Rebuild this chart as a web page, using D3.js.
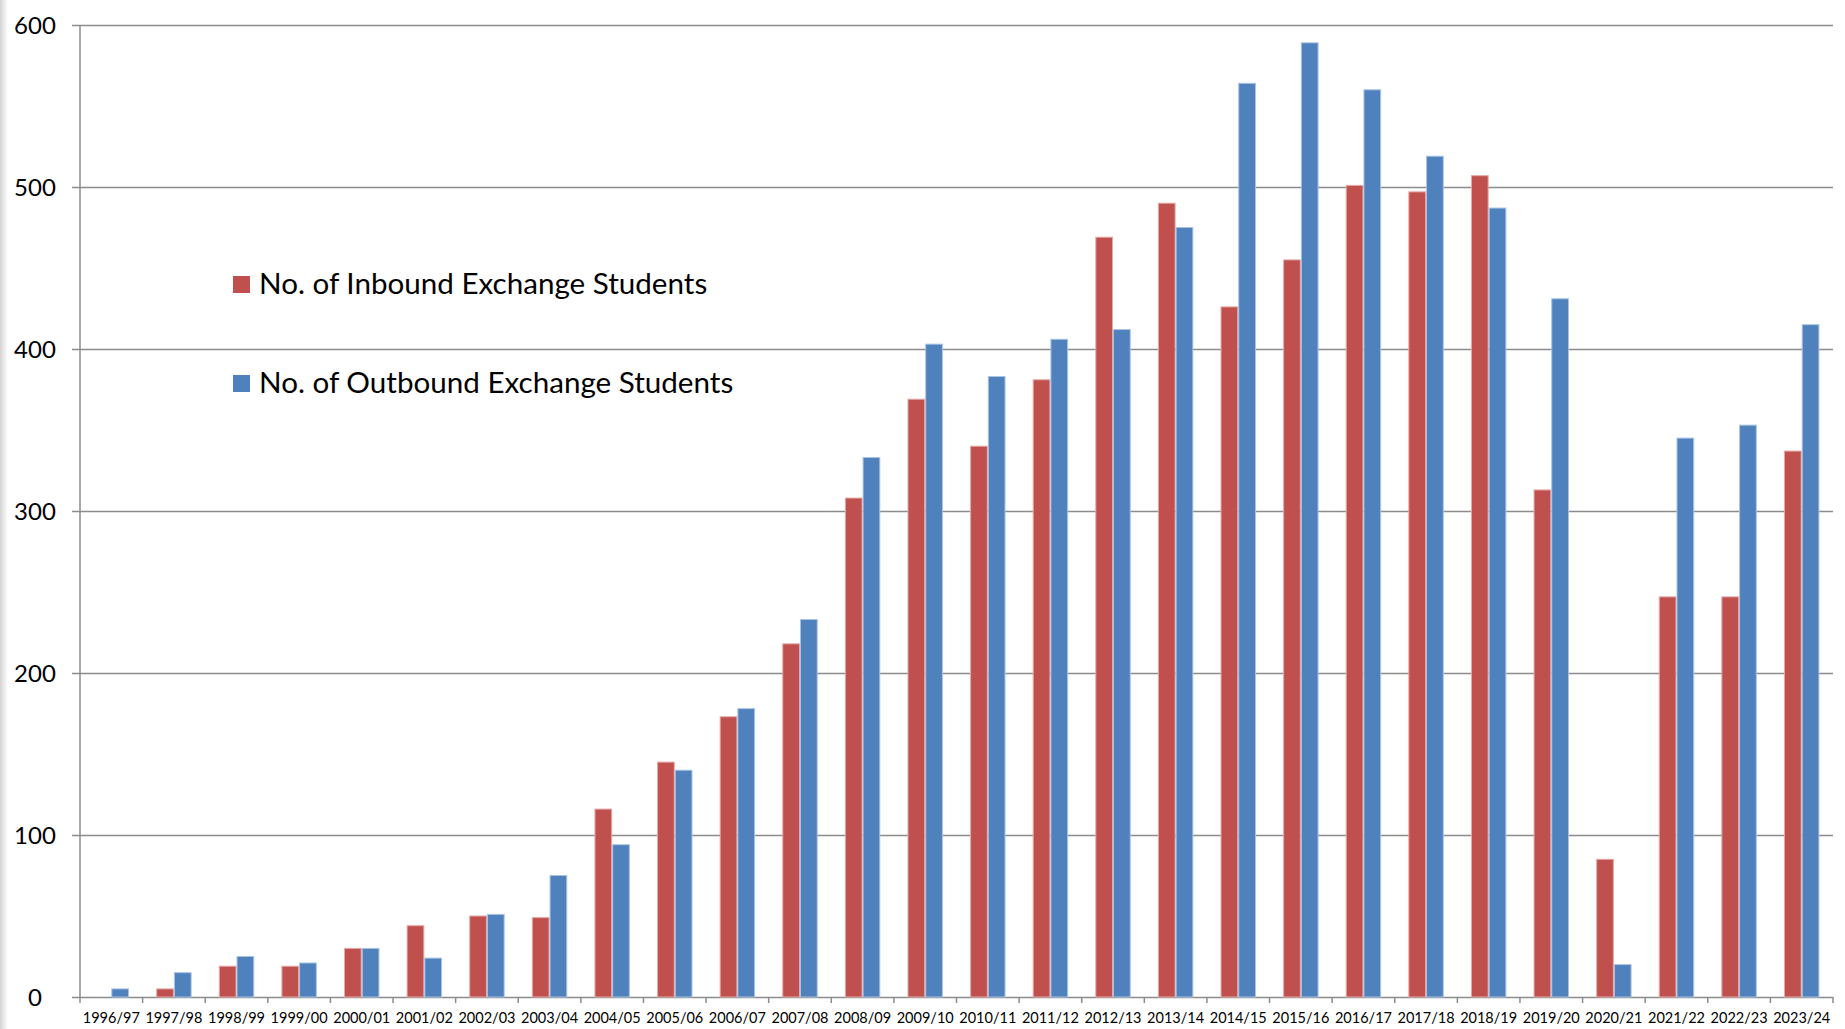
<!DOCTYPE html>
<html lang="en">
<head>
    <meta charset="UTF-8">
    <script src="https://d3js.org/d3.v7.min.js"></script>
    <title>Exchange Students</title>
    <style>
        body { margin: 0; background: #fff; }
        text { font-family: Lato, "Noto Sans", sans-serif; fill: #000; }
        .grid line { stroke: #8c8c8c; stroke-width: 1.5; }
    </style>
</head>
<body>
    <svg id="s1" width="1845" height="1029"></svg>
    <script>
        // data
        const years = ["1996/97","1997/98","1998/99","1999/00","2000/01","2001/02","2002/03",
                       "2003/04","2004/05","2005/06","2006/07","2007/08","2008/09","2009/10",
                       "2010/11","2011/12","2012/13","2013/14","2014/15","2015/16","2016/17",
                       "2017/18","2018/19","2019/20","2020/21","2021/22","2022/23","2023/24"];
        const inbound  = [0, 5, 19, 19, 30, 44, 50, 49, 116, 145, 173, 218, 308, 369,
                          340, 381, 469, 490, 426, 455, 501, 497, 507, 313, 85, 247, 247, 337];
        const outbound = [5, 15, 25, 21, 30, 24, 51, 75, 94, 140, 178, 233, 333, 403,
                          383, 406, 412, 475, 564, 589, 560, 519, 487, 431, 20, 345, 353, 415];
        const seriesNames = ["No. of Inbound Exchange Students", "No. of Outbound Exchange Students"];
        const yTicks = [0, 100, 200, 300, 400, 500, 600];

        const colors = ["#C0504D", "#4F81BD"];
        const edges  = ["#e6a9a7", "#a9c3e4"];

        const svg = d3.select("svg#s1");
        const plotLeft = 80, plotRight = 1833, plotTop = 25, plotBottom = 997;

        // faint shadow on the left edge
        const defs = svg.append("defs");
        const grad = defs.append("linearGradient").attr("id", "shadow");
        grad.append("stop").attr("offset", "0%").attr("stop-color", "#d4d4d4");
        grad.append("stop").attr("offset", "100%").attr("stop-color", "#fff");
        svg.append("rect").attr("x", 0).attr("y", 0).attr("width", 8).attr("height", 1029)
            .attr("fill", "url(#shadow)");

        const y = d3.scaleLinear().domain([0, 600]).range([plotBottom, plotTop]);
        const x0 = d3.scaleBand().domain(years).range([plotLeft, plotRight])
            .paddingInner(0.434).paddingOuter(0.217);
        const x1 = d3.scaleBand().domain([0, 1]).range([0, x0.bandwidth()]);

        // gridlines + y labels
        const grid = svg.append("g").attr("class", "grid")
            .attr("transform", "translate(" + plotLeft + ",0)")
            .call(d3.axisLeft(y).tickValues(yTicks).tickSize(-(plotRight - plotLeft)).tickFormat(""));
        grid.select(".domain").remove();
        grid.selectAll(".tick line").attr("x1", -8);

        svg.append("g").selectAll("text").data(yTicks).join("text")
            .attr("x", 35).attr("y", d => y(d))
            .attr("dy", "0.36em")
            .attr("text-anchor", "middle")
            .style("font-size", "24px")
            .text(d => d);

        // bars
        const rows = years.map((yr, i) => ({year: yr, vals: [inbound[i], outbound[i]]}));
        svg.append("g").selectAll("g").data(rows).join("g")
            .attr("transform", d => "translate(" + x0(d.year) + ",0)")
            .selectAll("rect").data(d => d.vals.map((v, k) => ({k: k, v: v})).filter(d => d.v > 0))
            .join("rect")
            .attr("x", d => x1(d.k) + 0.5)
            .attr("y", d => y(d.v))
            .attr("width", x1.bandwidth() - 1)
            .attr("height", d => y(0) - y(d.v))
            .attr("fill", d => colors[d.k])
            .attr("stroke", d => edges[d.k])
            .attr("stroke-width", 1);

        // y axis line
        svg.append("line").attr("x1", plotLeft).attr("x2", plotLeft)
            .attr("y1", plotTop).attr("y2", plotBottom)
            .attr("stroke", "#8c8c8c").attr("stroke-width", 1.5);

        // x axis: ticks at category boundaries
        const step = x0.step();
        const bounds = d3.range(years.length + 1).map(i => plotLeft + i * step);
        svg.append("g").selectAll("line").data(bounds).join("line")
            .attr("x1", d => d).attr("x2", d => d)
            .attr("y1", plotBottom).attr("y2", plotBottom + 6)
            .attr("stroke", "#8c8c8c").attr("stroke-width", 1.5);

        svg.append("g").selectAll("text").data(years).join("text")
            .attr("x", d => x0(d) + x0.bandwidth() / 2)
            .attr("y", 1023)
            .attr("text-anchor", "middle")
            .style("font-size", "14.5px")
            .text(d => d);

        // legend
        const legend = svg.append("g");
        const legY = [276, 375];
        seriesNames.forEach((name, k) => {
            legend.append("rect").attr("x", 233).attr("y", legY[k])
                .attr("width", 17).attr("height", 17).attr("fill", colors[k]);
            legend.append("text").attr("x", 259).attr("y", legY[k] + 17.5)
                .style("font-size", "29.6px").text(name);
        });
    </script>
</body>
</html>
